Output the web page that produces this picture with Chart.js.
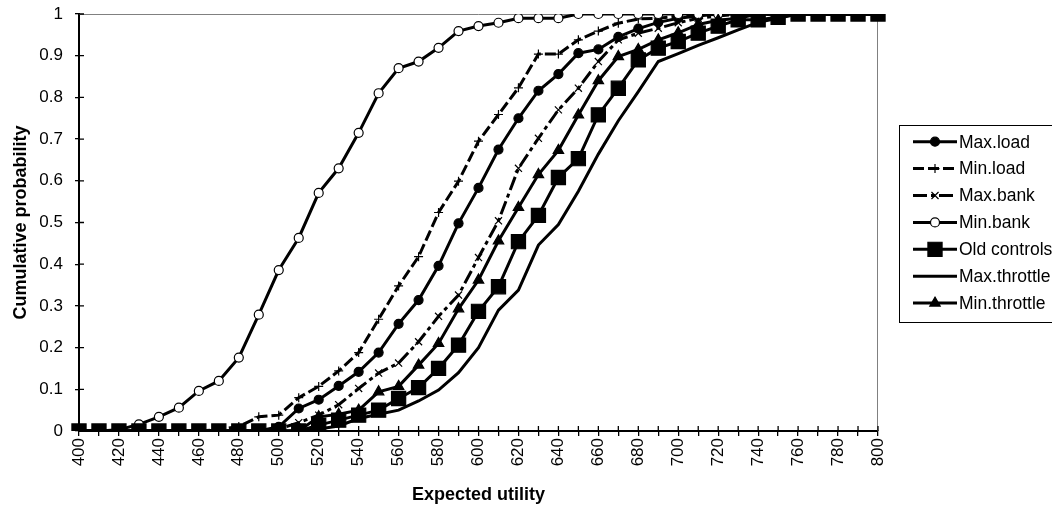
<!DOCTYPE html>
<html>
<head>
<meta charset="utf-8">
<script src="https://cdn.jsdelivr.net/npm/chart.js@4.4.0/dist/chart.umd.min.js"></script>
<style>
  html, body { margin: 0; padding: 0; background: #fff; }
  #wrap { width: 1052px; height: 510px; position: relative; }
</style>
</head>
<body>
<div id="wrap"><canvas id="grafico"></canvas></div>
<script>
// Datos
const utilidad = ['400','410','420','430','440','450','460','470','480','490',
                  '500','510','520','530','540','550','560','570','580','590',
                  '600','610','620','630','640','650','660','670','680','690',
                  '700','710','720','730','740','750','760','770','780','790','800'];

const etiquetasY = ['0','0.1','0.2','0.3','0.4','0.5','0.6','0.7','0.8','0.9','1'];

const maxLoad = [0,0,0,0,0,0,0,0,0,0,
                 0.01,0.054,0.075,0.108,0.142,0.188,0.257,0.314,0.396,0.498,
                 0.583,0.675,0.75,0.816,0.856,0.906,0.915,0.945,0.965,0.98,
                 0.99,0.995,1,1,1,1,1,1,1,1,1];

const minLoad = [0,0,0,0,0,0,0,0.003,0.011,0.034,
                 0.038,0.08,0.107,0.144,0.188,0.268,0.348,0.418,0.524,0.599,
                 0.695,0.759,0.823,0.904,0.904,0.938,0.959,0.978,0.988,0.99,
                 0.995,1,1,1,1,1,1,1,1,1,1];

const maxBank = [0,0,0,0,0,0,0,0,0,0,
                 0.005,0.02,0.038,0.063,0.102,0.139,0.163,0.214,0.275,0.326,
                 0.416,0.504,0.63,0.702,0.77,0.822,0.886,0.938,0.954,0.966,
                 0.979,0.99,0.995,1,1,1,1,1,1,1,1];

const minBank = [0,0,0.003,0.016,0.034,0.056,0.096,0.12,0.176,0.279,
                 0.386,0.463,0.571,0.63,0.715,0.81,0.87,0.886,0.919,0.959,
                 0.971,0.979,0.99,0.99,0.99,1,1,1,1,1,
                 1,1,1,1,1,1,1,1,1,1,1];

const oldControls = [0,0,0,0,0,0,0,0,0,0,
                     0,0,0.014,0.026,0.038,0.05,0.078,0.104,0.15,0.206,
                     0.287,0.346,0.454,0.517,0.608,0.653,0.758,0.822,0.89,0.918,
                     0.934,0.954,0.971,0.986,0.986,0.992,1,1,1,1,1];

const maxThrottle = [0,0,0,0,0,0,0,0,0,0,
                     0,0,0.005,0.012,0.03,0.04,0.05,0.072,0.098,0.14,
                     0.2,0.29,0.338,0.446,0.495,0.575,0.664,0.744,0.814,0.886,
                     0.905,0.925,0.943,0.962,0.98,0.99,1,1,1,1,1];

const minThrottle = [0,0,0,0,0,0,0,0,0,0,
                     0,0,0.034,0.04,0.05,0.094,0.107,0.158,0.21,0.293,
                     0.362,0.456,0.536,0.615,0.673,0.758,0.84,0.898,0.915,0.938,
                     0.955,0.975,0.985,0.99,1,1,1,1,1,1,1];

const fuente = '"Liberation Sans", Arial, sans-serif';

// Estilo de cada serie
function serie(nombre, datos, estilo, radio, relleno, guiones) {
    return {
        label: nombre,
        data: datos,
        borderColor: '#000',
        borderWidth: 3,
        borderDash: guiones || [],
        pointStyle: estilo,
        pointRadius: radio,
        pointHoverRadius: radio,
        pointBackgroundColor: relleno,
        pointBorderColor: '#000',
        pointBorderWidth: 1.2,
        fill: false,
        tension: 0
    };
}

const series = [
    serie('Max.load', maxLoad, 'circle', 4.5, '#000'),
    serie('Min.load', minLoad, 'cross', 4.5, '#000', [11, 4]),
    serie('Max.bank', maxBank, 'crossRot', 5, '#000', [14, 4, 4, 4]),
    serie('Min.bank', minBank, 'circle', 4.5, '#fff'),
    serie('Old controls', oldControls, 'rect', 10, '#000'),
    serie('Max.throttle', maxThrottle, false, 0, '#000'),
    serie('Min.throttle', minThrottle, 'triangle', 6, '#000')
];
// Las ultimas series se dibujan encima, como en Excel
series.forEach((s, i) => { s.order = series.length - i; });

// Marco gris arriba y a la derecha, y marcas de division hacia dentro
const marcoPlugin = {
    id: 'marco',
    beforeDatasetsDraw(chart) {
        const ctx = chart.ctx;
        const a = chart.chartArea;
        const x = chart.scales.x, y = chart.scales.y;
        ctx.save();
        ctx.strokeStyle = '#808080';
        ctx.lineWidth = 1;
        ctx.beginPath();
        ctx.moveTo(a.left, a.top + 0.5);
        ctx.lineTo(a.right - 0.5, a.top + 0.5);
        ctx.lineTo(a.right - 0.5, a.bottom);
        ctx.stroke();

        ctx.strokeStyle = '#000';
        ctx.lineWidth = 1.3;
        ctx.beginPath();
        y.ticks.forEach((t, i) => {
            const py = y.getPixelForTick(i);
            ctx.moveTo(a.left, py);
            ctx.lineTo(a.left + 5, py);
        });
        x.ticks.forEach((t, i) => {
            const px = x.getPixelForTick(i);
            ctx.moveTo(px, a.bottom);
            ctx.lineTo(px, a.bottom - 5);
        });
        ctx.stroke();
        ctx.restore();
    }
};

// Leyenda a la derecha, con linea y marcador
const leyendaPlugin = {
    id: 'leyendaLateral',
    afterDraw(chart) {
        const ctx = chart.ctx;
        const a = chart.chartArea;
        const izq = a.right + 21;
        const arriba = a.top + 111;
        const filaAlto = 26.9;
        ctx.save();
        ctx.strokeStyle = '#000';
        ctx.lineWidth = 1;
        ctx.strokeRect(izq + 0.5, arriba + 0.5, 220, 197);

        series.forEach((s, i) => {
            const cy = arriba + 16.7 + i * filaAlto;
            ctx.strokeStyle = '#000';
            ctx.lineWidth = 3;
            ctx.setLineDash(s.borderDash);
            ctx.beginPath();
            ctx.moveTo(izq + 14, cy);
            ctx.lineTo(izq + 58, cy);
            ctx.stroke();
            ctx.setLineDash([]);
            if (s.pointStyle) {
                ctx.fillStyle = s.pointBackgroundColor;
                ctx.strokeStyle = '#000';
                ctx.lineWidth = s.pointBorderWidth;
                Chart.helpers.drawPoint(ctx, {
                    pointStyle: s.pointStyle,
                    radius: s.pointRadius,
                    borderWidth: s.pointBorderWidth,
                    rotation: 0
                }, izq + 36, cy);
            }
            ctx.fillStyle = '#000';
            ctx.font = '17.5px ' + fuente;
            ctx.textBaseline = 'middle';
            ctx.textAlign = 'left';
            ctx.fillText(s.label, izq + 60, cy + 1);
        });
        ctx.restore();
    }
};

function graficarUtilidad() {
    const ctx = document.getElementById('grafico').getContext('2d');
    new Chart(ctx, {
        type: 'line',
        data: { labels: utilidad, datasets: series },
        options: {
            responsive: true,
            maintainAspectRatio: false,
            animation: false,
            layout: { padding: { top: 14, right: 174, left: 0, bottom: 0 } },
            plugins: { legend: { display: false }, tooltip: { enabled: false } },
            scales: {
                x: {
                    type: 'category',
                    offset: false,
                    afterFit(scale) { scale.height = 79; },
                    grid: { display: true, drawOnChartArea: false, tickLength: 5, color: '#000', lineWidth: 1.3, offset: false },
                    border: { display: true, color: '#000', width: 2 },
                    ticks: {
                        autoSkip: false,
                        minRotation: 90,
                        maxRotation: 90,
                        padding: 2,
                        color: '#000',
                        font: { family: fuente, size: 17 },
                        callback: (v, i) => (i % 2 === 0 ? utilidad[i] : '')
                    },
                    title: {
                        display: true,
                        text: 'Expected utility',
                        color: '#000',
                        font: { family: fuente, size: 18, weight: 'bold' },
                        padding: { top: 4, bottom: 4 }
                    }
                },
                y: {
                    min: 0,
                    max: 1,
                    afterFit(scale) {
                        scale.width = 79;
                        scale.paddingTop = 0;
                        scale.paddingBottom = 0;
                    },
                    grid: { display: true, drawOnChartArea: false, tickLength: 4, color: '#000', lineWidth: 1.3 },
                    border: { display: true, color: '#000', width: 2 },
                    ticks: {
                        stepSize: 0.1,
                        padding: 12,
                        color: '#000',
                        font: { family: fuente, size: 17 },
                        callback: (v, i) => etiquetasY[i]
                    },
                    title: {
                        display: true,
                        text: 'Cumulative probability',
                        color: '#000',
                        font: { family: fuente, size: 18, weight: 'bold' },
                        padding: { top: 10, bottom: 4 }
                    }
                }
            }
        },
        plugins: [marcoPlugin, leyendaPlugin]
    });
}

window.onload = function() {
    graficarUtilidad();
};
</script>
</body>
</html>
